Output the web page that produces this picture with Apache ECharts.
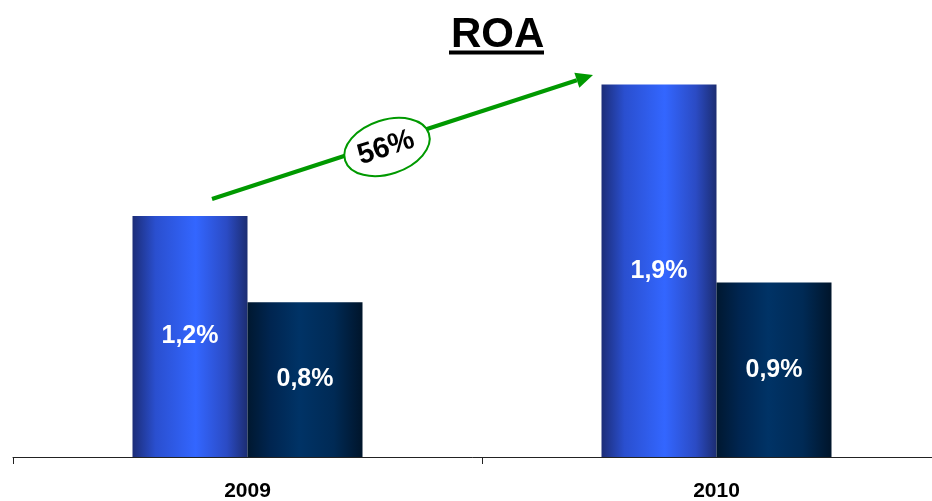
<!DOCTYPE html>
<html>
<head>
<meta charset="utf-8">
<script src="https://cdn.jsdelivr.net/npm/echarts@6/dist/echarts.min.js"></script>
<style>
  html, body { margin: 0; padding: 0; background: #fff; }
  #chart { width: 932px; height: 501px; }
</style>
</head>
<body>
<div id="chart"></div>
<script>
// data
const years = ['2009', '2010']
const roaA = [1.23, 1.90]
const roaB = [0.79, 0.89]
const growthLabel = '56%'

const font = '"Liberation Sans", Arial, sans-serif'

const lightBar = new echarts.graphic.LinearGradient(0, 0, 1, 0, [
  { offset: 0, color: '#1c2d78' },
  { offset: 0.2, color: '#2a4fcf' },
  { offset: 0.55, color: '#3366ff' },
  { offset: 0.82, color: '#2b4bc4' },
  { offset: 1, color: '#1c2d72' }
])
const darkBar = new echarts.graphic.LinearGradient(0, 0, 1, 0, [
  { offset: 0, color: '#001830' },
  { offset: 0.2, color: '#002550' },
  { offset: 0.45, color: '#003366' },
  { offset: 0.75, color: '#002a55' },
  { offset: 1, color: '#00152b' }
])

const fmt = p => p.value.toFixed(1).replace('.', ',') + '%'
const barLabel = {
  show: true,
  position: 'inside',
  color: '#fff',
  fontFamily: font,
  fontWeight: 'bold',
  fontSize: 25,
  formatter: fmt
}

// arrow geometry (annotation)
const tail = [212, 199]
const tip = [593, 75]
const dx = tip[0] - tail[0], dy = tip[1] - tail[1]
const len = Math.sqrt(dx * dx + dy * dy)
const ux = dx / len, uy = dy / len
const nx = -uy, ny = ux
const headLen = 17, headHalf = 8
const base = [tip[0] - headLen * ux, tip[1] - headLen * uy]
const ang = Math.atan2(-dy, dx)

const chart = echarts.init(document.getElementById('chart'))
chart.setOption({
  animation: false,
  title: {
    text: 'ROA',
    left: 446,
    top: 9,
    textStyle: { fontFamily: font, fontWeight: 'bold', fontSize: 42, color: '#000' }
  },
  grid: { left: 13, right: -19, top: 65, bottom: 44, outerBoundsMode: 'none', containLabel: false },
  xAxis: {
    type: 'category',
    data: years,
    axisLine: { lineStyle: { color: '#222', width: 1 } },
    axisTick: { show: true, length: 7, lineStyle: { color: '#222' } },
    axisLabel: {
      margin: 24,
      color: '#000',
      fontFamily: font,
      fontWeight: 'bold',
      fontSize: 21
    }
  },
  yAxis: {
    type: 'value',
    min: 0,
    max: 2,
    show: false,
    splitLine: { show: false }
  },
  series: [
    {
      type: 'bar',
      data: roaA,
      barWidth: 115,
      barGap: '0%',
      itemStyle: { color: lightBar },
      label: barLabel
    },
    {
      type: 'bar',
      data: roaB,
      barWidth: 115,
      barGap: '0%',
      itemStyle: { color: darkBar },
      label: barLabel
    }
  ],
  graphic: [
    {
      type: 'line',
      shape: { x1: 449, y1: 52.5, x2: 544, y2: 52.5 },
      style: { stroke: '#000', lineWidth: 4 }
    },
    {
      type: 'line',
      shape: { x1: tail[0], y1: tail[1], x2: base[0], y2: base[1] },
      style: { stroke: '#009900', lineWidth: 4 },
      z: 10
    },
    {
      type: 'polygon',
      shape: {
        points: [
          tip,
          [base[0] + headHalf * nx, base[1] + headHalf * ny],
          [base[0] - headHalf * nx, base[1] - headHalf * ny]
        ]
      },
      style: { fill: '#009900' },
      z: 10
    },
    {
      type: 'ellipse',
      x: 387,
      y: 147,
      rotation: ang,
      shape: { cx: 0, cy: 0, rx: 44, ry: 27 },
      style: { fill: '#fff', stroke: '#009900', lineWidth: 2 },
      z: 11
    },
    {
      type: 'text',
      x: 386,
      y: 148,
      rotation: ang,
      style: {
        text: growthLabel,
        align: 'center',
        verticalAlign: 'middle',
        fill: '#000',
        font: 'bold 29px ' + font
      },
      z: 12
    }
  ]
})
</script>
</body>
</html>
